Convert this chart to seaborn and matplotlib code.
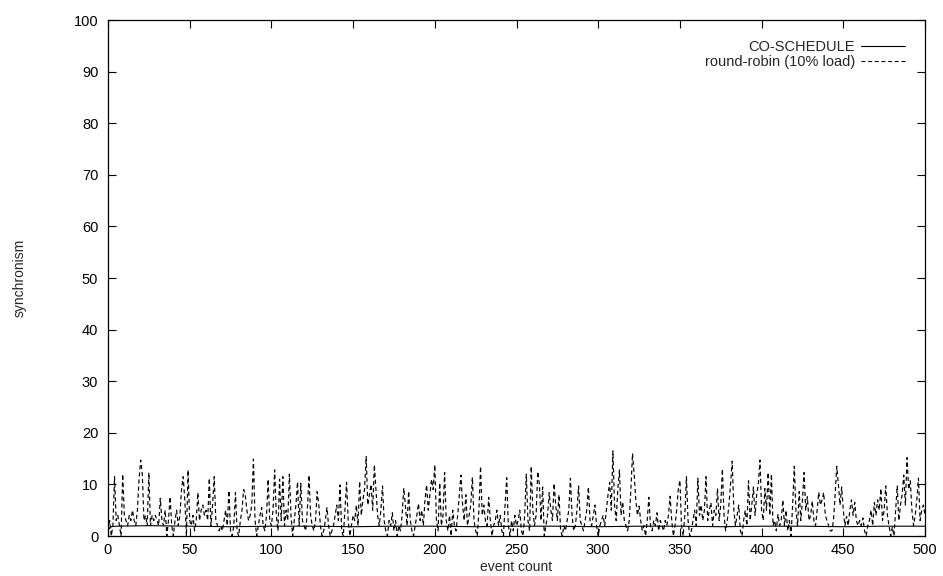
import matplotlib
matplotlib.use("Agg")
import matplotlib.pyplot as plt
import seaborn as sns
import pandas as pd

# ---- data ----
x_rr = list(range(0, 501))
round_robin = [
    1, 3, 0, 2, 11.5, 3, 4, 2, 0, 12, 4, 3, 2, 4, 3, 5, 3, 2, 5, 11, 14.7, 12, 3, 4, 2,
    12.3, 2, 4, 3, 4, 3, 2, 7.3, 3, 2, 5, 0, 3, 7.6, 2, 0, 3, 5, 2, 4, 9, 11.5, 7, 0, 12.8,
    3, 2, 4, 1, 3, 8.4, 3, 5, 6, 4, 5, 3, 11.2, 2, 6, 11.5, 3, 2, 1, 2, 1, 3, 5, 2, 8.8,
    1, 0, 2, 8.4, 1, 0, 3, 5, 9, 8, 5, 3, 4, 6, 14.9, 3, 0, 2, 4, 5.5, 2, 1, 4, 11, 3,
    2, 5, 12.8, 4, 1, 11, 3, 11.5, 2, 5, 3, 12, 4, 0, 3, 6, 10.5, 2, 10.2, 3, 2, 1, 5, 11.8, 4,
    2, 1, 3, 8.6, 6, 2, 0, 1, 3, 5.5, 2, 0, 1, 2, 4, 6, 3, 9.9, 1, 0, 5, 10.4, 3, 0, 2,
    4, 3, 6, 2, 10.6, 4, 7, 9, 15.4, 6, 8, 10, 5, 13.8, 9, 4, 2, 5, 9.7, 3, 1, 0, 3, 2, 4.5,
    1, 3, 0, 2, 1, 4, 9.3, 6, 2, 8.7, 3, 1, 0, 2, 4, 6.3, 3, 5, 2, 7, 9.9, 5, 8, 11, 9,
    13.8, 3, 1, 10.3, 2, 4, 12.3, 3, 1, 4, 0, 5, 2, 1, 4, 8, 11.8, 6, 3, 8, 2, 4, 6, 11.4, 3,
    1, 0, 5, 13.5, 4, 6, 3, 2, 7.5, 3, 0, 2, 3, 5, 2, 4, 1, 0, 6, 11.3, 2, 0, 3, 1, 4,
    2, 3, 5, 1, 0, 4, 12, 3, 1, 13.5, 5, 2, 4, 12.5, 10, 3, 9.5, 0, 2, 4, 8.4, 5, 3, 10.2, 6,
    3, 8, 1, 0, 2, 1, 3, 5, 11.2, 4, 1, 2, 5, 9.7, 3, 2, 1, 3, 5, 9.5, 3, 2, 4, 6, 2,
    0, 2, 3, 4, 2, 5, 8, 10.4, 5, 16.5, 6, 3, 9, 12.8, 4, 6.6, 3, 2, 1, 3, 9, 16, 12, 7, 4,
    5.8, 3, 1, 2, 0, 3, 7.5, 2, 1, 3, 2, 4.5, 1, 3, 2, 1, 3, 2, 4, 7.7, 3, 0, 2, 5, 9,
    10.8, 2, 0, 4, 11.5, 3, 0, 1, 3, 5, 2, 11.2, 4, 6, 3, 5, 11.5, 3, 5, 6.5, 2, 5, 4, 9.2, 3,
    6, 13, 4, 1, 3, 6, 10, 14.5, 5, 2, 4, 6, 1, 0, 3, 5, 2, 10.7, 3, 6, 9.5, 4, 8, 10, 14.7,
    5, 3, 9.2, 5, 12.3, 4, 12, 2, 3, 1, 4.2, 2, 3, 7, 2, 5, 1, 3, 0, 6, 13.5, 5, 2, 8.6, 3,
    7, 12.3, 5, 7.6, 3, 4, 6.8, 3, 2, 5, 8.5, 6, 7, 8.4, 4, 3, 2, 1, 1, 3, 8, 13.5, 10, 6, 9.5,
    5, 2, 3.8, 2, 5, 7, 4, 6.5, 3, 2, 3, 2, 3.5, 1, 0, 2, 3, 5, 2, 6.5, 4, 7, 5, 9.2, 3,
    5, 9.7, 4, 2, 0, 1.8, 0, 5, 9.7, 3, 6, 8, 11.8, 6, 15.2, 9, 10.7, 5, 2, 4, 7, 11.2, 3, 5, 6, 4,
]
x_co = [0, 2, 5, 25, 50, 75, 100, 125, 150, 175, 200, 225, 250, 275, 300, 325, 350,
        375, 400, 425, 450, 475, 500]
co_schedule = [1.2, 1.8, 1.9, 2.0, 1.9, 1.8, 1.9, 1.9, 1.8, 1.9, 1.9, 1.8, 1.9, 1.9,
               1.8, 1.9, 1.9, 1.8, 1.9, 1.9, 1.8, 1.9, 1.9]

x_ticks = [0, 50, 100, 150, 200, 250, 300, 350, 400, 450, 500]
y_ticks = [0, 10, 20, 30, 40, 50, 60, 70, 80, 90, 100]

# ---- style ----
sns.set_style("ticks")
plt.rcParams["font.family"] = ["Liberation Sans", "DejaVu Sans"]
plt.rcParams["font.size"] = 10

fig = plt.figure(figsize=(9.43, 5.76), dpi=100)
ax = fig.add_axes([108 / 943, 40 / 576, (925 - 108) / 943, (536 - 20) / 576])

df_co = pd.DataFrame({"x": x_co, "y": co_schedule})
df_rr = pd.DataFrame({"x": x_rr, "y": round_robin})

sns.lineplot(data=df_co, x="x", y="y", ax=ax, color="black", linewidth=0.8,
             label="CO-SCHEDULE")
sns.lineplot(data=df_rr, x="x", y="y", ax=ax, color="black", linewidth=0.85,
             label="round-robin (10% load)")
ax.lines[1].set_dashes([3.5, 2.5])

ax.set_xlim(0, 500)
ax.set_ylim(0, 100)
ax.set_xticks(x_ticks)
ax.set_yticks(y_ticks)
ax.tick_params(direction="in", length=6, width=0.8, top=True, right=True,
               labelsize=10.5, colors="black")
ax.tick_params(axis="x", pad=5)
ax.tick_params(axis="y", pad=7)
for s in ax.spines.values():
    s.set_linewidth(0.9)
    s.set_color("black")

ax.set_xlabel("event count", fontsize=10, labelpad=2.5)
ax.set_ylabel("synchronism", fontsize=10, labelpad=34)

leg = ax.legend(loc="upper right", frameon=False, markerfirst=False,
                handlelength=3.0, handletextpad=0.4, labelspacing=0.05,
                fontsize=10.5, borderaxespad=1.0)
for line in leg.get_lines():
    line.set_linewidth(0.8)

fig.savefig("out.png", dpi=100)
